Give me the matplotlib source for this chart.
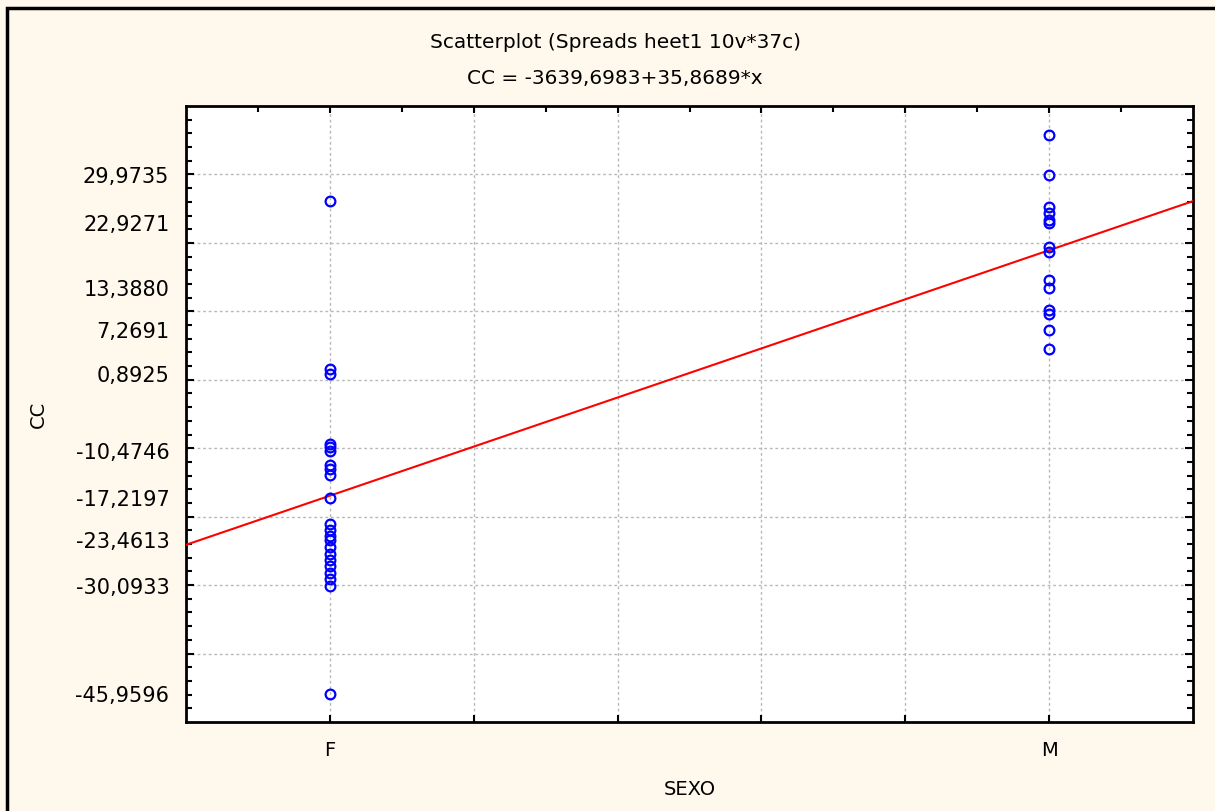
import numpy as np
import matplotlib.pyplot as plt
from matplotlib.patches import Rectangle

plt.rcParams['font.family'] = ['DejaVu Sans']

# SEXO coded as 101 (F) and 102 (M)
sexo_codes = [101, 102]
sexo_labels = ['F', 'M']

cc_f = [26.06, 1.55, 0.8925, -9.38, -9.8, -10.4746, -12.44, -13.0, -13.9,
        -17.2197, -21.04, -21.9, -22.8, -23.4613, -24.5, -25.4, -26.3,
        -27.2, -28.2, -29.1, -30.0933, -45.9596]
cc_m = [35.69, 29.9735, 25.19, 24.31, 23.29, 22.9271, 19.35, 18.63,
        14.55, 13.388, 10.17, 9.58, 7.2691, 4.48]

# regression from the title
intercept = -3639.6983
slope = 35.8689

ytick_vals = [29.9735, 22.9271, 13.3880, 7.2691, 0.8925, -10.4746,
              -17.2197, -23.4613, -30.0933, -45.9596]
ytick_labels = ['29,9735', '22,9271', '13,3880', '7,2691', '0,8925',
                '-10,4746', '-17,2197', '-23,4613', '-30,0933', '-45,9596']

bg = '#fff8ec'
fig = plt.figure(figsize=(12.15, 8.11), dpi=100, facecolor=bg)
fig.patches.append(Rectangle((7 / 1215, -0.1), 1.2, 1 - 8 / 811 + 0.1,
                             transform=fig.transFigure, fill=False,
                             edgecolor='black', lw=2.5))

ax = fig.add_axes([186 / 1215, 1 - 722 / 811, 1007 / 1215, 616 / 811])
ax.set_facecolor('white')

xmin, xmax = 100.8, 102.2
xs = np.array([xmin, xmax])
ax.plot(xs, intercept + slope * xs, color='red', lw=1.5, zorder=3)

ax.plot([sexo_codes[0]] * len(cc_f), cc_f, 'o', ms=7, mfc='none',
        mec='#0000ff', mew=1.6, zorder=4)
ax.plot([sexo_codes[1]] * len(cc_m), cc_m, 'o', ms=7, mfc='none',
        mec='#0000ff', mew=1.6, zorder=4)

ax.set_xlim(xmin, xmax)
ax.set_ylim(-50, 40)

xt = np.round(np.arange(101, 102.01, 0.2), 1)
ax.set_xticks(xt)
ax.set_xticklabels([sexo_labels[0], '', '', '', '', sexo_labels[1]],
                   fontsize=14)
ax.set_xticks(np.round(np.arange(100.9, 102.2, 0.1), 1), minor=True)
ax.set_yticks(np.arange(-40, 31, 10))
ax.set_yticklabels([])
ax.set_yticks(np.arange(-48, 40, 2), minor=True)

ax.grid(True, which='major', color='#b8b8b8', linestyle=(0, (2, 2)), lw=1)
ax.tick_params(axis='x', which='major', direction='in', top=True,
               bottom=True, length=5, width=1.5, pad=14)
ax.tick_params(axis='x', which='minor', direction='in', top=True,
               bottom=False, length=4, width=1.5)
ax.tick_params(axis='y', which='both', direction='in', left=True,
               right=True, width=1.5)
ax.tick_params(axis='y', which='major', length=6)
ax.tick_params(axis='y', which='minor', length=4)

for s in ax.spines.values():
    s.set_linewidth(2)

sec = ax.secondary_yaxis('left')
sec.set_yticks(ytick_vals)
sec.set_yticklabels(ytick_labels, fontsize=15)
sec.tick_params(length=0, pad=12)
sec.spines['left'].set_visible(False)

ax.set_xlabel('SEXO', fontsize=14, labelpad=14)
ax.set_ylabel('')
fig.text(38 / 1215, 1 - 414 / 811, 'CC', rotation=90, fontsize=14,
         ha='center', va='center')

fig.text(615 / 1215, 1 - 42 / 811, 'Scatterplot (Spreads heet1 10v*37c)',
         fontsize=14.5, ha='center', va='center')
fig.text(615 / 1215, 1 - 78 / 811, 'CC = -3639,6983+35,8689*x',
         fontsize=14.5, ha='center', va='center')

fig.savefig('out.png', dpi=100, facecolor=bg)
